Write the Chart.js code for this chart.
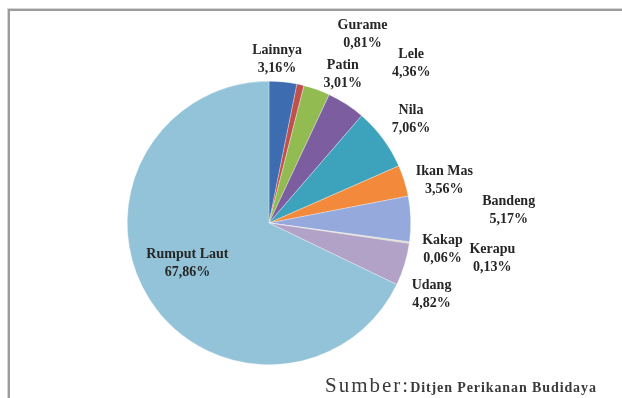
<!DOCTYPE html>
<html>
<head>
<meta charset="utf-8">
<script src="https://cdn.jsdelivr.net/npm/chart.js@4/dist/chart.umd.min.js"></script>
<style>
    body { margin: 0; background: #fff; }
    #wrap { position: relative; width: 622px; height: 398px; overflow: hidden; }
    #frame {
        position: absolute; left: 8px; top: 9px; width: 700px; height: 500px;
        border-top: 2px solid #9c9c9c; border-left: 2px solid #9c9c9c;
        box-shadow: -1px -1px 0 #d6d6d6;
    }
    #pieChart { position: absolute; left: 0; top: 0; }
    #source {
        position: absolute; left: 325px; top: 373px; white-space: nowrap;
        font-family: "Liberation Serif", serif; color: #3a3a3a;
    }
    #source .big { font-size: 21px; letter-spacing: 2px; }
    #source .small { font-size: 14px; font-weight: bold; letter-spacing: 0.9px; }
</style>
</head>
<body>
<div id="wrap">
    <div id="frame"></div>
    <canvas id="pieChart" width="622" height="398"></canvas>
    <div id="source"><span class="big">Sumber:</span><span class="small">Ditjen Perikanan Budidaya</span></div>
</div>
<script>
const CATEGORIES = ['Lainnya', 'Gurame', 'Patin', 'Lele', 'Nila', 'Ikan Mas', 'Bandeng', 'Kakap', 'Kerapu', 'Udang', 'Rumput Laut'];
const SHARES = [3.16, 0.81, 3.01, 4.36, 7.06, 3.56, 5.17, 0.06, 0.13, 4.82, 67.86];

const SLICE_COLORS = [
    '#3e6cb0', // Lainnya
    '#c0504d', // Gurame
    '#92bb52', // Patin
    '#7c5ea0', // Lele
    '#3da3bd', // Nila
    '#f3893a', // Ikan Mas
    '#95a9dc', // Bandeng
    '#d99694', // Kakap
    '#c3d69b', // Kerapu
    '#b3a2c7', // Udang
    '#93c3d8'  // Rumput Laut
];

// where each label sits, relative to the middle of its slice's outer edge
// (f = fraction of radius along the mid angle, dx/dy = extra shift in px)
const LABEL_PLACE = [
    { f: 1, dx: -6, dy: -23 },
    { f: 1, dx: 62, dy: -50 },
    { f: 1, dx: 26, dy: -15 },
    { f: 1, dx: 65, dy: -41 },
    { f: 1, dx: 28, dy: -19 },
    { f: 1, dx: 40, dy: 0 },
    { f: 1, dx: 98, dy: -9 },
    { f: 1, dx: 33, dy: 7 },
    { f: 1, dx: 83, dy: 15 },
    { f: 1, dx: 27, dy: 30 },
    { f: 0.68, dx: 0, dy: -11 }
];

function pct(v) {
    return v.toFixed(2).replace('.', ',') + '%';
}

const sliceLabels = {
    id: 'sliceLabels',
    afterDatasetsDraw(chart) {
        var ctx = chart.ctx;
        var meta = chart.getDatasetMeta(0);
        ctx.save();
        ctx.font = 'bold 14px "Liberation Serif", serif';
        ctx.fillStyle = '#262626';
        ctx.textAlign = 'center';
        ctx.textBaseline = 'middle';
        meta.data.forEach(function (arc, i) {
            var p = arc.getProps(['x', 'y', 'startAngle', 'endAngle', 'outerRadius'], true);
            var mid = (p.startAngle + p.endAngle) / 2;
            var place = LABEL_PLACE[i];
            var cx = p.x + Math.cos(mid) * p.outerRadius * place.f + place.dx;
            var cy = p.y + Math.sin(mid) * p.outerRadius * place.f + place.dy;
            ctx.fillText(CATEGORIES[i], cx, cy - 9);
            ctx.fillText(pct(SHARES[i]), cx, cy + 9);
        });
        ctx.restore();
    }
};

const ctxPie = document.getElementById('pieChart');

var data = {
    labels: CATEGORIES,
    datasets: [
        {
            data: SHARES,
            backgroundColor: SLICE_COLORS,
            borderColor: 'rgba(255,255,255,0.6)',
            borderWidth: 0.5
        }
    ]
};

var config = {
    type: 'pie',
    data: data,
    options: {
        responsive: false,
        animation: false,
        layout: {
            padding: { left: 127, right: 211, top: 81, bottom: 33 }
        },
        plugins: {
            legend: { display: false },
            tooltip: { enabled: false }
        }
    },
    plugins: [sliceLabels]
};

var chartPie = new Chart(ctxPie, config);
</script>
</body>
</html>
